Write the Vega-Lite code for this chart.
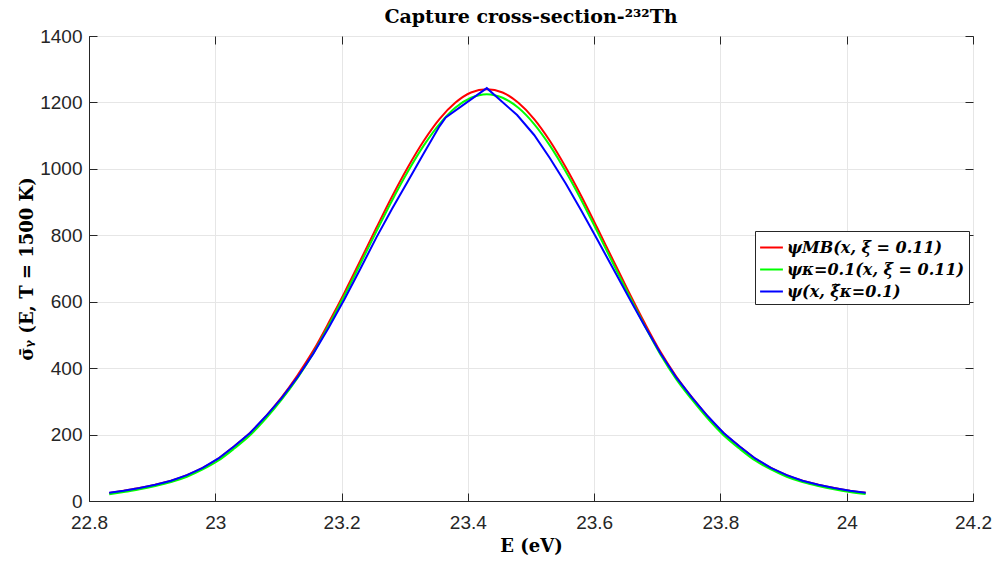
{
  "$schema": "https://vega.github.io/schema/vega-lite/v6.json",
  "width": 884,
  "height": 465,
  "autosize": {"type": "none"},
  "padding": {"left": 89, "top": 36, "right": 23, "bottom": 62},
  "background": "white",
  "title": {"text": "Capture cross-section-²³²Th", "font": "DejaVu Serif", "fontSize": 19, "fontWeight": "bold", "color": "#000000", "offset": 0},
  "config": {
    "view": {"stroke": "#262626", "strokeWidth": 1},
    "axis": {"labelFont": "Liberation Sans", "labelFontSize": 19, "labelColor": "#262626", "domainColor": "#262626", "tickColor": "#262626", "gridColor": "#e6e6e6", "gridOpacity": 1, "titleFont": "DejaVu Serif", "titleFontSize": 18, "titleFontWeight": "bold", "titleColor": "#000000"}
  },
  "datasets": {
    "curves": [
      {"E": 22.832, "v": 24, "s": "ψMB(x, ξ = 0.11)"},
      {"E": 22.855, "v": 31, "s": "ψMB(x, ξ = 0.11)"},
      {"E": 22.88, "v": 39, "s": "ψMB(x, ξ = 0.11)"},
      {"E": 22.905, "v": 49, "s": "ψMB(x, ξ = 0.11)"},
      {"E": 22.93, "v": 61, "s": "ψMB(x, ξ = 0.11)"},
      {"E": 22.955, "v": 78, "s": "ψMB(x, ξ = 0.11)"},
      {"E": 22.98, "v": 100, "s": "ψMB(x, ξ = 0.11)"},
      {"E": 23.005, "v": 128, "s": "ψMB(x, ξ = 0.11)"},
      {"E": 23.03, "v": 165, "s": "ψMB(x, ξ = 0.11)"},
      {"E": 23.055, "v": 205, "s": "ψMB(x, ξ = 0.11)"},
      {"E": 23.08, "v": 255, "s": "ψMB(x, ξ = 0.11)"},
      {"E": 23.105, "v": 312, "s": "ψMB(x, ξ = 0.11)"},
      {"E": 23.13, "v": 378, "s": "ψMB(x, ξ = 0.11)"},
      {"E": 23.155, "v": 452, "s": "ψMB(x, ξ = 0.11)"},
      {"E": 23.18, "v": 538, "s": "ψMB(x, ξ = 0.11)"},
      {"E": 23.205, "v": 629, "s": "ψMB(x, ξ = 0.11)"},
      {"E": 23.23, "v": 725, "s": "ψMB(x, ξ = 0.11)"},
      {"E": 23.255, "v": 822, "s": "ψMB(x, ξ = 0.11)"},
      {"E": 23.28, "v": 917, "s": "ψMB(x, ξ = 0.11)"},
      {"E": 23.305, "v": 1005, "s": "ψMB(x, ξ = 0.11)"},
      {"E": 23.33, "v": 1084, "s": "ψMB(x, ξ = 0.11)"},
      {"E": 23.355, "v": 1150, "s": "ψMB(x, ξ = 0.11)"},
      {"E": 23.38, "v": 1199, "s": "ψMB(x, ξ = 0.11)"},
      {"E": 23.405, "v": 1230, "s": "ψMB(x, ξ = 0.11)"},
      {"E": 23.43, "v": 1240, "s": "ψMB(x, ξ = 0.11)"},
      {"E": 23.455, "v": 1230, "s": "ψMB(x, ξ = 0.11)"},
      {"E": 23.48, "v": 1199, "s": "ψMB(x, ξ = 0.11)"},
      {"E": 23.505, "v": 1150, "s": "ψMB(x, ξ = 0.11)"},
      {"E": 23.53, "v": 1084, "s": "ψMB(x, ξ = 0.11)"},
      {"E": 23.555, "v": 1005, "s": "ψMB(x, ξ = 0.11)"},
      {"E": 23.58, "v": 917, "s": "ψMB(x, ξ = 0.11)"},
      {"E": 23.605, "v": 822, "s": "ψMB(x, ξ = 0.11)"},
      {"E": 23.63, "v": 725, "s": "ψMB(x, ξ = 0.11)"},
      {"E": 23.655, "v": 629, "s": "ψMB(x, ξ = 0.11)"},
      {"E": 23.68, "v": 536, "s": "ψMB(x, ξ = 0.11)"},
      {"E": 23.705, "v": 449, "s": "ψMB(x, ξ = 0.11)"},
      {"E": 23.73, "v": 375, "s": "ψMB(x, ξ = 0.11)"},
      {"E": 23.755, "v": 312, "s": "ψMB(x, ξ = 0.11)"},
      {"E": 23.78, "v": 255, "s": "ψMB(x, ξ = 0.11)"},
      {"E": 23.805, "v": 205, "s": "ψMB(x, ξ = 0.11)"},
      {"E": 23.83, "v": 165, "s": "ψMB(x, ξ = 0.11)"},
      {"E": 23.855, "v": 128, "s": "ψMB(x, ξ = 0.11)"},
      {"E": 23.88, "v": 100, "s": "ψMB(x, ξ = 0.11)"},
      {"E": 23.905, "v": 78, "s": "ψMB(x, ξ = 0.11)"},
      {"E": 23.93, "v": 61, "s": "ψMB(x, ξ = 0.11)"},
      {"E": 23.955, "v": 49, "s": "ψMB(x, ξ = 0.11)"},
      {"E": 23.98, "v": 39, "s": "ψMB(x, ξ = 0.11)"},
      {"E": 24.005, "v": 31, "s": "ψMB(x, ξ = 0.11)"},
      {"E": 24.03, "v": 25, "s": "ψMB(x, ξ = 0.11)"},

      {"E": 22.832, "v": 20, "s": "ψκ=0.1(x, ξ = 0.11)"},
      {"E": 22.855, "v": 27, "s": "ψκ=0.1(x, ξ = 0.11)"},
      {"E": 22.88, "v": 35, "s": "ψκ=0.1(x, ξ = 0.11)"},
      {"E": 22.905, "v": 45, "s": "ψκ=0.1(x, ξ = 0.11)"},
      {"E": 22.93, "v": 57, "s": "ψκ=0.1(x, ξ = 0.11)"},
      {"E": 22.955, "v": 73, "s": "ψκ=0.1(x, ξ = 0.11)"},
      {"E": 22.98, "v": 95, "s": "ψκ=0.1(x, ξ = 0.11)"},
      {"E": 23.005, "v": 122, "s": "ψκ=0.1(x, ξ = 0.11)"},
      {"E": 23.03, "v": 158, "s": "ψκ=0.1(x, ξ = 0.11)"},
      {"E": 23.055, "v": 198, "s": "ψκ=0.1(x, ξ = 0.11)"},
      {"E": 23.08, "v": 248, "s": "ψκ=0.1(x, ξ = 0.11)"},
      {"E": 23.105, "v": 305, "s": "ψκ=0.1(x, ξ = 0.11)"},
      {"E": 23.13, "v": 370, "s": "ψκ=0.1(x, ξ = 0.11)"},
      {"E": 23.155, "v": 444, "s": "ψκ=0.1(x, ξ = 0.11)"},
      {"E": 23.18, "v": 530, "s": "ψκ=0.1(x, ξ = 0.11)"},
      {"E": 23.205, "v": 620, "s": "ψκ=0.1(x, ξ = 0.11)"},
      {"E": 23.23, "v": 715, "s": "ψκ=0.1(x, ξ = 0.11)"},
      {"E": 23.255, "v": 811, "s": "ψκ=0.1(x, ξ = 0.11)"},
      {"E": 23.28, "v": 905, "s": "ψκ=0.1(x, ξ = 0.11)"},
      {"E": 23.305, "v": 992, "s": "ψκ=0.1(x, ξ = 0.11)"},
      {"E": 23.33, "v": 1070, "s": "ψκ=0.1(x, ξ = 0.11)"},
      {"E": 23.355, "v": 1135, "s": "ψκ=0.1(x, ξ = 0.11)"},
      {"E": 23.38, "v": 1184, "s": "ψκ=0.1(x, ξ = 0.11)"},
      {"E": 23.405, "v": 1214, "s": "ψκ=0.1(x, ξ = 0.11)"},
      {"E": 23.43, "v": 1225, "s": "ψκ=0.1(x, ξ = 0.11)"},
      {"E": 23.455, "v": 1214, "s": "ψκ=0.1(x, ξ = 0.11)"},
      {"E": 23.48, "v": 1184, "s": "ψκ=0.1(x, ξ = 0.11)"},
      {"E": 23.505, "v": 1135, "s": "ψκ=0.1(x, ξ = 0.11)"},
      {"E": 23.53, "v": 1070, "s": "ψκ=0.1(x, ξ = 0.11)"},
      {"E": 23.555, "v": 992, "s": "ψκ=0.1(x, ξ = 0.11)"},
      {"E": 23.58, "v": 905, "s": "ψκ=0.1(x, ξ = 0.11)"},
      {"E": 23.605, "v": 811, "s": "ψκ=0.1(x, ξ = 0.11)"},
      {"E": 23.63, "v": 715, "s": "ψκ=0.1(x, ξ = 0.11)"},
      {"E": 23.655, "v": 620, "s": "ψκ=0.1(x, ξ = 0.11)"},
      {"E": 23.68, "v": 528, "s": "ψκ=0.1(x, ξ = 0.11)"},
      {"E": 23.705, "v": 441, "s": "ψκ=0.1(x, ξ = 0.11)"},
      {"E": 23.73, "v": 367, "s": "ψκ=0.1(x, ξ = 0.11)"},
      {"E": 23.755, "v": 305, "s": "ψκ=0.1(x, ξ = 0.11)"},
      {"E": 23.78, "v": 248, "s": "ψκ=0.1(x, ξ = 0.11)"},
      {"E": 23.805, "v": 198, "s": "ψκ=0.1(x, ξ = 0.11)"},
      {"E": 23.83, "v": 158, "s": "ψκ=0.1(x, ξ = 0.11)"},
      {"E": 23.855, "v": 122, "s": "ψκ=0.1(x, ξ = 0.11)"},
      {"E": 23.88, "v": 95, "s": "ψκ=0.1(x, ξ = 0.11)"},
      {"E": 23.905, "v": 73, "s": "ψκ=0.1(x, ξ = 0.11)"},
      {"E": 23.93, "v": 57, "s": "ψκ=0.1(x, ξ = 0.11)"},
      {"E": 23.955, "v": 45, "s": "ψκ=0.1(x, ξ = 0.11)"},
      {"E": 23.98, "v": 35, "s": "ψκ=0.1(x, ξ = 0.11)"},
      {"E": 24.005, "v": 27, "s": "ψκ=0.1(x, ξ = 0.11)"},
      {"E": 24.03, "v": 21, "s": "ψκ=0.1(x, ξ = 0.11)"},

      {"E": 22.832, "v": 25, "s": "ψ(x, ξ̃κ=0.1)"},
      {"E": 22.855, "v": 31, "s": "ψ(x, ξ̃κ=0.1)"},
      {"E": 22.88, "v": 39, "s": "ψ(x, ξ̃κ=0.1)"},
      {"E": 22.905, "v": 49, "s": "ψ(x, ξ̃κ=0.1)"},
      {"E": 22.93, "v": 61, "s": "ψ(x, ξ̃κ=0.1)"},
      {"E": 22.955, "v": 78, "s": "ψ(x, ξ̃κ=0.1)"},
      {"E": 22.98, "v": 100, "s": "ψ(x, ξ̃κ=0.1)"},
      {"E": 23.005, "v": 128, "s": "ψ(x, ξ̃κ=0.1)"},
      {"E": 23.03, "v": 165, "s": "ψ(x, ξ̃κ=0.1)"},
      {"E": 23.055, "v": 205, "s": "ψ(x, ξ̃κ=0.1)"},
      {"E": 23.08, "v": 255, "s": "ψ(x, ξ̃κ=0.1)"},
      {"E": 23.105, "v": 310, "s": "ψ(x, ξ̃κ=0.1)"},
      {"E": 23.13, "v": 372, "s": "ψ(x, ξ̃κ=0.1)"},
      {"E": 23.155, "v": 443, "s": "ψ(x, ξ̃κ=0.1)"},
      {"E": 23.18, "v": 523, "s": "ψ(x, ξ̃κ=0.1)"},
      {"E": 23.205, "v": 609, "s": "ψ(x, ξ̃κ=0.1)"},
      {"E": 23.23, "v": 700, "s": "ψ(x, ξ̃κ=0.1)"},
      {"E": 23.255, "v": 793, "s": "ψ(x, ξ̃κ=0.1)"},
      {"E": 23.28, "v": 880, "s": "ψ(x, ξ̃κ=0.1)"},
      {"E": 23.305, "v": 963, "s": "ψ(x, ξ̃κ=0.1)"},
      {"E": 23.33, "v": 1046, "s": "ψ(x, ξ̃κ=0.1)"},
      {"E": 23.355, "v": 1128, "s": "ψ(x, ξ̃κ=0.1)"},
      {"E": 23.365, "v": 1155, "s": "ψ(x, ξ̃κ=0.1)"},
      {"E": 23.43, "v": 1243, "s": "ψ(x, ξ̃κ=0.1)"},
      {"E": 23.478, "v": 1162, "s": "ψ(x, ξ̃κ=0.1)"},
      {"E": 23.505, "v": 1102, "s": "ψ(x, ξ̃κ=0.1)"},
      {"E": 23.53, "v": 1032, "s": "ψ(x, ξ̃κ=0.1)"},
      {"E": 23.555, "v": 956, "s": "ψ(x, ξ̃κ=0.1)"},
      {"E": 23.58, "v": 873, "s": "ψ(x, ξ̃κ=0.1)"},
      {"E": 23.605, "v": 787, "s": "ψ(x, ξ̃κ=0.1)"},
      {"E": 23.63, "v": 700, "s": "ψ(x, ξ̃κ=0.1)"},
      {"E": 23.655, "v": 613, "s": "ψ(x, ξ̃κ=0.1)"},
      {"E": 23.68, "v": 527, "s": "ψ(x, ξ̃κ=0.1)"},
      {"E": 23.705, "v": 445, "s": "ψ(x, ξ̃κ=0.1)"},
      {"E": 23.73, "v": 372, "s": "ψ(x, ξ̃κ=0.1)"},
      {"E": 23.755, "v": 311, "s": "ψ(x, ξ̃κ=0.1)"},
      {"E": 23.78, "v": 255, "s": "ψ(x, ξ̃κ=0.1)"},
      {"E": 23.805, "v": 205, "s": "ψ(x, ξ̃κ=0.1)"},
      {"E": 23.83, "v": 165, "s": "ψ(x, ξ̃κ=0.1)"},
      {"E": 23.855, "v": 128, "s": "ψ(x, ξ̃κ=0.1)"},
      {"E": 23.88, "v": 100, "s": "ψ(x, ξ̃κ=0.1)"},
      {"E": 23.905, "v": 78, "s": "ψ(x, ξ̃κ=0.1)"},
      {"E": 23.93, "v": 61, "s": "ψ(x, ξ̃κ=0.1)"},
      {"E": 23.955, "v": 49, "s": "ψ(x, ξ̃κ=0.1)"},
      {"E": 23.98, "v": 39, "s": "ψ(x, ξ̃κ=0.1)"},
      {"E": 24.005, "v": 31, "s": "ψ(x, ξ̃κ=0.1)"},
      {"E": 24.03, "v": 25, "s": "ψ(x, ξ̃κ=0.1)"}
    ]
  },
  "data": {"name": "curves"},
  "encoding": {
    "x": {"field": "E", "type": "quantitative", "scale": {"domain": [22.8, 24.2], "nice": false, "zero": false}},
    "y": {"field": "v", "type": "quantitative", "scale": {"domain": [0, 1400], "nice": false}},
    "color": {"field": "s", "type": "nominal",
      "scale": {"domain": ["ψMB(x, ξ = 0.11)", "ψκ=0.1(x, ξ = 0.11)", "ψ(x, ξ̃κ=0.1)"], "range": ["#ff0000", "#00ff00", "#0000ff"]},
      "legend": {"title": null, "orient": "none", "legendX": 666, "legendY": 195, "symbolType": "stroke", "symbolStrokeWidth": 2, "symbolSize": 520, "labelFont": "DejaVu Serif", "labelFontSize": 16, "labelFontWeight": "bold", "labelFontStyle": "italic", "labelColor": "#000000", "strokeColor": "#262626", "fillColor": "white", "padding": 4, "rowPadding": 1, "labelOffset": 3, "labelLimit": 300}}
  },
  "layer": [
    {
      "transform": [{"filter": "datum.s != 'ψ(x, ξ̃κ=0.1)'"}],
      "mark": {"type": "line", "strokeWidth": 2, "clip": true, "interpolate": "monotone"},
      "encoding": {
        "x": {"field": "E", "type": "quantitative",
          "axis": {"title": "E (eV)", "values": [22.8, 23, 23.2, 23.4, 23.6, 23.8, 24, 24.2], "format": "~g", "tickSize": -8, "labelPadding": 20, "titlePadding": 5, "grid": true, "labelFlush": false}},
        "y": {"field": "v", "type": "quantitative",
          "axis": {"title": "σ̄ᵧ (E, T = 1500 K)", "values": [0, 200, 400, 600, 800, 1000, 1200, 1400], "format": "d", "tickSize": -8, "labelPadding": 15, "titlePadding": 3, "grid": true, "labelFlush": false}}
      }
    },
    {
      "transform": [{"filter": "datum.s == 'ψ(x, ξ̃κ=0.1)'"}],
      "mark": {"type": "line", "strokeWidth": 2, "clip": true, "interpolate": "linear"},
      "encoding": {
        "x": {"field": "E", "type": "quantitative",
          "axis": {"orient": "top", "title": null, "values": [22.8, 23, 23.2, 23.4, 23.6, 23.8, 24, 24.2], "labels": false, "domain": false, "tickSize": -8, "grid": false}},
        "y": {"field": "v", "type": "quantitative",
          "axis": {"orient": "right", "title": null, "values": [0, 200, 400, 600, 800, 1000, 1200, 1400], "labels": false, "domain": false, "tickSize": -8, "grid": false}}
      }
    }
  ],
  "resolve": {"axis": {"x": "independent", "y": "independent"}}
}
